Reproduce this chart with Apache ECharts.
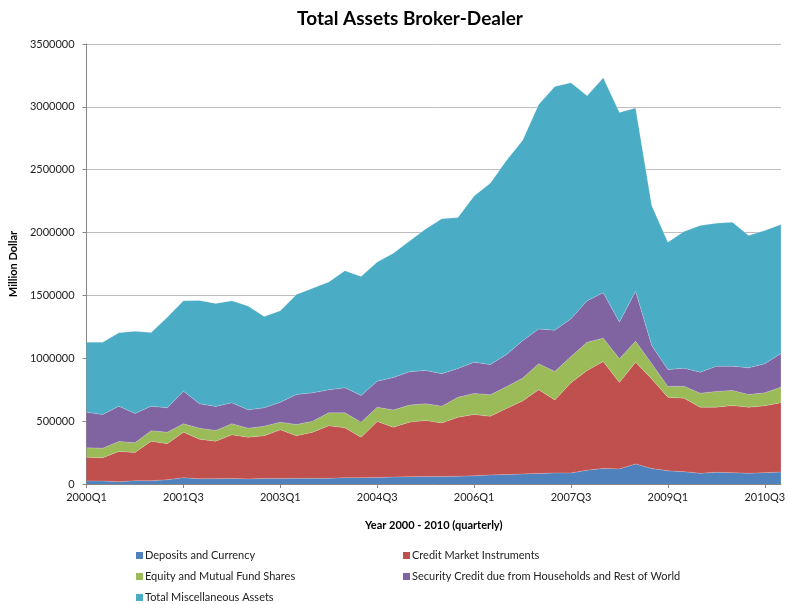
<!DOCTYPE html>
<html>
<head>
<meta charset="utf-8">
<script src="https://cdn.jsdelivr.net/npm/echarts@6/dist/echarts.min.js"></script>
<style>
html,body{margin:0;padding:0;background:#fff;}
#chart{width:788px;height:604px;}
</style>
</head>
<body>
<div id="chart"></div>
<script>
// Quarterly categories 2000Q1 .. 2010Q4
const years = [2000,2001,2002,2003,2004,2005,2006,2007,2008,2009,2010];
const quarters = [];
years.forEach(function(y){ for (let q = 1; q <= 4; q++) quarters.push(y + 'Q' + q); });

const depositsCurrency = [24000,24000,18000,26000,26000,34000,50000,42000,42000,44000,40000,44000,44000,45000,45000,45000,50000,50000,52000,55000,58000,60000,60000,62000,65000,72000,75000,80000,84000,88000,88000,110000,124000,120000,160000,123000,105000,98000,85000,93000,90000,85000,90000,95000];
const creditMarket = [189000,184000,241000,225000,315000,286000,362000,314000,299000,347000,332000,339000,387000,338000,367000,418000,397000,322000,445000,397000,434000,445000,426000,469000,488000,466000,525000,580000,666000,580000,718000,793000,850000,687000,809000,713000,585000,585000,526000,518000,534000,526000,532000,551000];
const equityFunds = [75000,77000,79000,77000,82000,92000,67000,88000,85000,88000,72000,77000,61000,90000,88000,103000,119000,120000,114000,136000,136000,133000,133000,159000,167000,172000,173000,182000,206000,227000,208000,225000,186000,189000,167000,120000,86000,95000,111000,125000,120000,101000,103000,124000];
const securityCredit = [283000,268000,281000,233000,196000,194000,259000,194000,191000,167000,146000,146000,159000,239000,225000,183000,199000,212000,207000,259000,265000,265000,258000,228000,248000,240000,256000,297000,277000,329000,300000,329000,362000,291000,398000,146000,134000,143000,167000,200000,193000,212000,231000,268000];
const miscAssets = [557000,575000,584000,654000,586000,721000,719000,822000,819000,811000,825000,726000,727000,795000,833000,857000,931000,947000,947000,989000,1039000,1125000,1233000,1202000,1323000,1443000,1544000,1594000,1786000,1938000,1877000,1631000,1709000,1668000,1456000,1113000,1014000,1088000,1167000,1139000,1146000,1053000,1061000,1026000];

const seriesNames = ['Deposits and Currency','Credit Market Instruments','Equity and Mutual Fund Shares','Security Credit due from Households and Rest of World','Total Miscellaneous Assets'];
const seriesData = [depositsCurrency, creditMarket, equityFunds, securityCredit, miscAssets];
const colors = ['#4F81BD','#C0504D','#9BBB59','#8064A2','#4BACC6'];

const FONT = 'Lato, "Open Sans", sans-serif';
const chart = echarts.init(document.getElementById('chart'), null, {renderer:'canvas'});

const legendText = {fontFamily: FONT, fontSize: 11, color: '#222', padding: [0,0,0,-3]};
// legend placement: [series index, left, top]
const legendSlots = [[0,136,550],[1,403,550],[2,136,571],[3,403,571],[4,136,592]];

chart.setOption({
  animation: false,
  color: colors,
  title: {
    text: 'Total Assets Broker-Dealer',
    left: 405, top: 4, textAlign: 'center',
    textStyle: {fontFamily: FONT, fontSize: 19, fontWeight: 'bold', color: '#000'}
  },
  legend: legendSlots.map(function(s){
    return {left: s[1], top: s[2], orient: 'horizontal', itemGap: 0, itemWidth: 7, itemHeight: 7, icon: 'rect',
            padding: 0, textStyle: legendText, data: [seriesNames[s[0]]], selectedMode: false};
  }),
  grid: {left: 82, right: 3, top: 44, bottom: 120, containLabel: false},
  xAxis: {
    type: 'category', data: quarters, boundaryGap: false,
    name: 'Year 2000 - 2010 (quarterly)', nameLocation: 'middle', nameGap: 36,
    nameTextStyle: {fontFamily: FONT, fontSize: 11, fontWeight: 'bold', color: '#000'},
    axisLine: {lineStyle: {color: '#868686', width: 1}},
    axisTick: {show: true, interval: 5, length: 4, lineStyle: {color: '#868686'}},
    axisLabel: {interval: 5, fontFamily: FONT, fontSize: 11, color: '#222', margin: 8},
    splitLine: {show: false}
  },
  yAxis: {
    type: 'value', min: 0, max: 3500000, interval: 500000,
    name: 'Million Dollar', nameLocation: 'middle', nameGap: 58, nameRotate: 90,
    nameTextStyle: {fontFamily: FONT, fontSize: 11, fontWeight: 'bold', color: '#000'},
    axisLine: {show: true, lineStyle: {color: '#868686', width: 1}},
    axisTick: {show: true, length: 4, lineStyle: {color: '#868686'}},
    axisLabel: {fontFamily: FONT, fontSize: 11, color: '#222', margin: 12, formatter: function(v){ return String(v); }},
    splitLine: {show: true, lineStyle: {color: '#BEBEBE', width: 1}}
  },
  series: seriesNames.map(function(n, k){
    return {
      name: n, type: 'line', stack: 'total', data: seriesData[k],
      showSymbol: false, symbol: 'none',
      lineStyle: {width: 0.6, color: 'rgba(255,255,255,0.35)'},
      areaStyle: {color: colors[k], opacity: 1},
      itemStyle: {color: colors[k]},
      emphasis: {disabled: true}
    };
  })
});
</script>
</body>
</html>
